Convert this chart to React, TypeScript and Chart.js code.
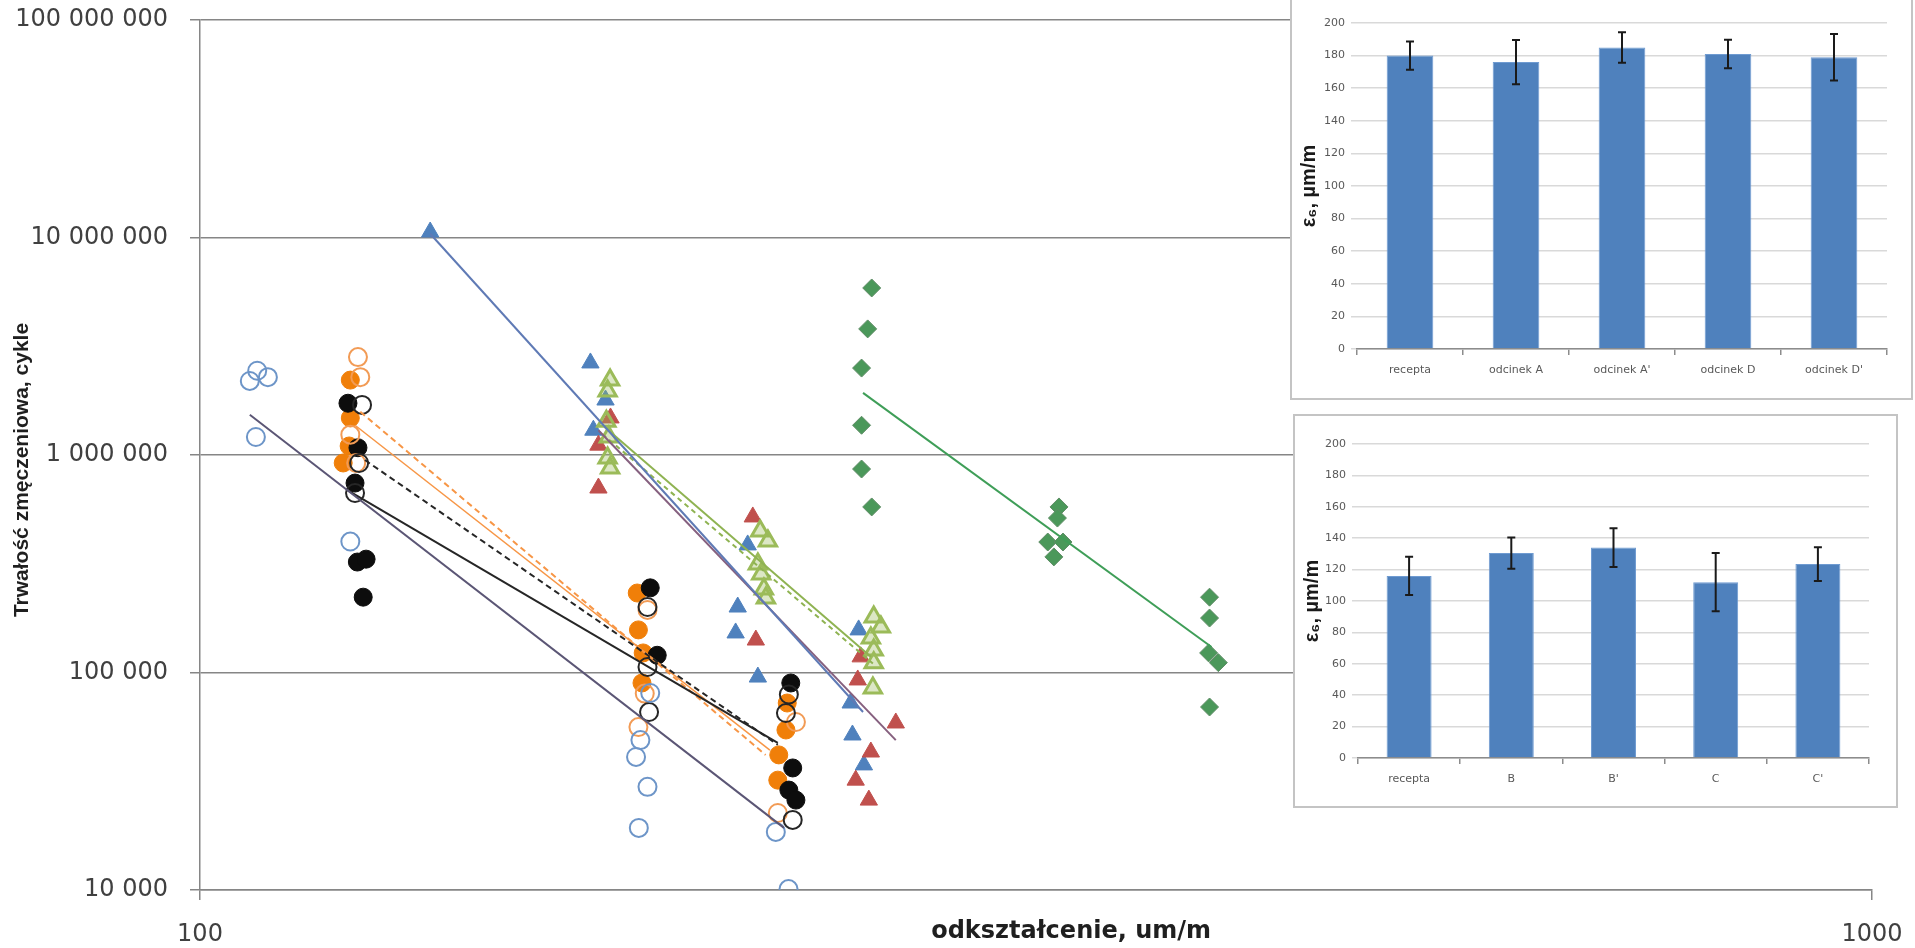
import React, { useEffect, useRef } from 'react';
import { Chart, registerables } from 'chart.js';

Chart.register(...registerables);

type Pt = [number, number];

// ---- main fatigue chart: strain (µm/m) vs. fatigue life (cycles), log-log ----
const X_TICKS = [100, 1000];
const Y_TICKS = [10000, 100000, 1000000, 10000000, 100000000];
const Y_TICK_LABELS = ['10 000', '100 000', '1 000 000', '10 000 000', '100 000 000'];

const BLUE_CIRCLES: Pt[] = [
  [108.2, 2440000], [109.8, 2280000], [107.1, 2190000], [108.0, 1210000],
  [123.0, 400000],
  [185.9, 80500], [183.4, 48900], [182.3, 40900], [185.2, 29800], [183.0, 19300],
  [221.0, 18500], [224.9, 10100],
];

const ORANGE_FILLED: Pt[] = [
  [123.0, 2210000], [123.0, 1480000], [122.8, 1100000], [121.8, 919000],
  [182.6, 232000], [182.9, 157000], [184.1, 123000], [183.8, 89500],
  [224.5, 72400], [224.1, 54400], [221.9, 41800], [221.6, 32000],
];

const ORANGE_OPEN: Pt[] = [
  [124.3, 2820000], [124.7, 2280000], [123.0, 1240000], [124.0, 919000],
  [185.2, 194000], [184.5, 80000], [182.9, 56100],
  [227.2, 59200], [221.6, 22600],
];

const BLACK_FILLED: Pt[] = [
  [122.6, 1730000], [124.3, 1080000], [123.8, 743000], [124.2, 322000], [125.7, 332000], [125.2, 222000],
  [185.9, 245000], [187.7, 120000],
  [225.6, 89500], [226.2, 36400], [225.0, 28800], [227.2, 25900],
];

const BLACK_OPEN: Pt[] = [
  [125.0, 1700000], [124.5, 919000], [123.8, 669000],
  [185.2, 200000], [185.2, 106000], [185.6, 65800],
  [225.0, 79200], [224.1, 65100], [226.2, 21000],
];

const BLUE_TRIANGLES: Pt[] = [
  [137.3, 10600000],
  [171.2, 2650000], [174.8, 1790000], [171.9, 1300000],
  [212.6, 386000], [209.7, 200000], [209.1, 152000], [215.6, 95300],
  [247.7, 157000], [245.0, 72400], [245.6, 51600], [249.5, 37600],
];

const RED_TRIANGLES: Pt[] = [
  [176.0, 1480000], [173.1, 1110000], [173.1, 705000],
  [214.1, 519000], [215.0, 141000],
  [248.4, 118000], [247.4, 92400], [260.7, 58600], [251.9, 43100], [246.7, 32000], [251.2, 25900],
];

const GREEN_TRIANGLES: Pt[] = [
  [175.9, 2210000], [175.3, 1970000], [175.0, 1430000], [175.6, 1210000], [175.3, 969000], [175.9, 871000],
  [216.3, 447000], [218.6, 402000], [215.6, 315000], [216.6, 284000], [217.4, 242000], [218.0, 220000],
  [252.9, 180000], [255.4, 162000], [251.9, 144000], [252.9, 127000], [252.9, 111000], [252.6, 84900],
];

const GREEN_DIAMONDS: Pt[] = [
  [252.2, 5860000], [250.8, 3800000], [248.7, 2510000], [248.7, 1370000], [248.7, 862000], [252.2, 577000],
  [326.4, 577000], [325.7, 513000], [321.4, 398000], [328.2, 398000], [324.1, 340000],
  [401.6, 222000], [401.6, 178000], [401.1, 123000], [406.5, 111000], [401.6, 69400],
];

// power trend lines (straight on log-log axes), start and end point of each
const TREND_SLATE: Pt[] = [[107.1, 1530000], [223.5, 19300]];
const TREND_BLACK: Pt[] = [[122.5, 690000], [221.6, 47500]];
const TREND_BLACK_DASHED: Pt[] = [[125.5, 948000], [221.6, 46500]];
const TREND_ORANGE: Pt[] = [[123.8, 1370000], [219.2, 44000]];
const TREND_ORANGE_DASHED: Pt[] = [[124.7, 1580000], [217.9, 41800]];
const TREND_BLUE: Pt[] = [[137.3, 10400000], [249.2, 65800]];
const TREND_RED: Pt[] = [[173.1, 1300000], [260.7, 48900]];
const TREND_GREEN: Pt[] = [[174.5, 1350000], [251.9, 118000]];
const TREND_GREEN_DASHED: Pt[] = [[174.0, 1250000], [252.6, 110000]];
const TREND_DIAMOND: Pt[] = [[249.2, 1930000], [402.7, 131000]];

// ---- inset bar charts: ε6 with standard deviation ----
const TOP_CATEGORIES = ['recepta', 'odcinek A', "odcinek A'", 'odcinek D', "odcinek D'"];
const TOP_VALUES = [180, 176, 185, 181, 179];
const TOP_ERRORS = [8.7, 13.5, 9.4, 8.7, 14.3];

const BOTTOM_CATEGORIES = ['recepta', 'B', "B'", 'C', "C'"];
const BOTTOM_VALUES = [116, 130.5, 134, 112, 123.5];
const BOTTOM_ERRORS = [12.2, 9.9, 12.4, 18.6, 10.8];

const toXY = (pts: Pt[]) => pts.map(([x, y]) => ({ x, y }));

const trend = (pts: Pt[], color: string, width: number, dash: number[] = []) => ({
  data: toXY(pts),
  showLine: true,
  borderColor: color,
  borderWidth: width,
  borderDash: dash,
  pointRadius: 0,
  fill: false,
});

const markers = (pts: Pt[], style: string, radius: number, bg: string, border: string, bw: number) => ({
  data: toXY(pts),
  showLine: false,
  pointStyle: style,
  pointRadius: radius,
  backgroundColor: bg,
  borderColor: border,
  borderWidth: bw,
});

const mainTitles = {
  id: 'mainTitles',
  afterDraw(chart: any) {
    const { ctx, chartArea } = chart;
    ctx.save();
    ctx.fillStyle = '#1f1f1f';
    ctx.textAlign = 'center';
    ctx.textBaseline = 'middle';
    ctx.font = "bold 24px 'DejaVu Sans'";
    ctx.fillText('odkształcenie, um/m', chartArea.left + (chartArea.right - chartArea.left) * 0.521, chartArea.bottom + 42);
    ctx.translate(22, (chartArea.top + chartArea.bottom) / 2 + 15);
    ctx.rotate(-Math.PI / 2);
    ctx.font = "bold 21px 'Liberation Sans'";
    ctx.fillText('Trwałość zmęczeniowa, cykle', 0, 0);
    ctx.restore();
  },
};

const errorBars = {
  id: 'errorBars',
  afterDatasetsDraw(chart: any, _args: any, opts: any) {
    const errs: number[] = opts.errors || [];
    const vals = chart.data.datasets[0].data as number[];
    const meta = chart.getDatasetMeta(0);
    const yScale = chart.scales.y;
    const { ctx } = chart;
    ctx.save();
    ctx.strokeStyle = '#1a1a1a';
    ctx.lineWidth = 2;
    meta.data.forEach((bar: any, i: number) => {
      const x = bar.x;
      const top = yScale.getPixelForValue(vals[i] + errs[i]);
      const bot = yScale.getPixelForValue(vals[i] - errs[i]);
      ctx.beginPath();
      ctx.moveTo(x, top);
      ctx.lineTo(x, bot);
      ctx.moveTo(x - 4, top);
      ctx.lineTo(x + 4, top);
      ctx.moveTo(x - 4, bot);
      ctx.lineTo(x + 4, bot);
      ctx.stroke();
    });
    ctx.restore();
  },
};

function insetConfig(
  labels: string[],
  values: number[],
  errors: number[],
  yWidth: number,
  xHeight: number,
  padding: { top: number; right: number; left: number; bottom: number },
): any {
  const tickFont = { family: "'DejaVu Sans'", size: 11 };
  return {
    type: 'bar',
    data: {
      labels,
      datasets: [
        {
          data: values,
          backgroundColor: '#4f81bd',
          borderColor: '#6f9bd1',
          borderWidth: 1,
          barPercentage: 0.44,
          categoryPercentage: 1,
        },
      ],
    },
    options: {
      responsive: false,
      animation: false,
      devicePixelRatio: 1,
      layout: { padding, autoPadding: false },
      plugins: { legend: { display: false }, tooltip: { enabled: false }, errorBars: { errors } },
      scales: {
        x: {
          afterFit: (s: any) => { s.height = xHeight; },
          grid: { offset: true, drawOnChartArea: false, drawTicks: true, tickLength: 6, color: '#8c8c8c', lineWidth: 1.5 },
          border: { display: true, color: '#8c8c8c', width: 1.5 },
          ticks: { font: tickFont, color: '#595959', padding: 9, maxRotation: 0, autoSkip: false },
        },
        y: {
          min: 0,
          max: 200,
          afterFit: (s: any) => { s.width = yWidth; s.paddingTop = 0; s.paddingBottom = 0; },
          ticks: { stepSize: 20, font: tickFont, color: '#595959', padding: 6 },
          grid: { color: '#d9d9d9', lineWidth: 1.5, drawTicks: true, tickLength: 6 },
          border: { display: false },
          title: {
            display: true,
            text: 'ε₆, µm/m',
            font: { family: "'Liberation Sans', 'DejaVu Sans'", size: 20, weight: 'bold' },
            color: '#1a1a1a',
            padding: { top: 5, bottom: 0 },
          },
        },
      },
    },
    plugins: [errorBars],
  };
}

export default function App() {
  const mainRef = useRef<HTMLCanvasElement>(null);
  const topRef = useRef<HTMLCanvasElement>(null);
  const bottomRef = useRef<HTMLCanvasElement>(null);

  useEffect(() => {
    const tickFont = { family: "'DejaVu Sans'", size: 24 };
    const main = new Chart(mainRef.current!, {
      type: 'scatter',
      data: {
        datasets: [
          trend(TREND_SLATE, '#5b5675', 2),
          trend(TREND_BLACK, '#262626', 2),
          trend(TREND_BLACK_DASHED, '#262626', 2, [6, 4]),
          trend(TREND_ORANGE, '#f79646', 1.5),
          trend(TREND_ORANGE_DASHED, '#f79646', 2, [6, 4]),
          trend(TREND_BLUE, '#5f7ab5', 2),
          trend(TREND_RED, '#86607f', 2),
          trend(TREND_GREEN, '#8fb352', 2),
          trend(TREND_GREEN_DASHED, '#8fb352', 2, [5, 4]),
          trend(TREND_DIAMOND, '#3f9e58', 2),
          markers(BLUE_CIRCLES, 'circle', 9, 'rgba(0,0,0,0)', '#6d95c8', 2),
          markers(BLACK_OPEN, 'circle', 9, 'rgba(0,0,0,0)', '#262626', 2),
          markers(ORANGE_OPEN, 'circle', 9, 'rgba(0,0,0,0)', '#f29b55', 2),
          markers(BLACK_FILLED, 'circle', 9, '#0d0d0d', '#0d0d0d', 1),
          markers(ORANGE_FILLED, 'circle', 9, '#f07f09', '#f07f09', 1),
          markers(GREEN_TRIANGLES, 'triangle', 10, 'rgba(155,187,89,0.35)', '#9bbb59', 3),
          markers(RED_TRIANGLES, 'triangle', 10, '#c0504d', '#c0504d', 1),
          markers(BLUE_TRIANGLES, 'triangle', 10, '#4f81bd', '#4f81bd', 1),
          markers(GREEN_DIAMONDS, 'rectRot', 9, '#4b985a', '#5f8c66', 1),
        ] as any,
      },
      options: {
        responsive: false,
        animation: false,
        devicePixelRatio: 1,
        layout: { padding: { left: 0, right: 43, top: 20, bottom: 0 }, autoPadding: false },
        plugins: { legend: { display: false }, tooltip: { enabled: false } },
        scales: {
          x: {
            type: 'logarithmic',
            min: 100,
            max: 1000,
            afterFit: (s: any) => { s.height = 58; s.paddingLeft = 0; s.paddingRight = 0; },
            afterBuildTicks: (s: any) => { s.ticks = X_TICKS.map((v) => ({ value: v })); },
            ticks: {
              callback: (v: any) => String(v),
              font: tickFont,
              color: '#404040',
              padding: 20,
              maxRotation: 0,
              autoSkip: false,
            },
            grid: { drawOnChartArea: false, drawTicks: true, tickLength: 10, color: '#868686', lineWidth: 1.5 },
            border: { display: true, color: '#868686', width: 1.5 },
          },
          y: {
            type: 'logarithmic',
            min: 10000,
            max: 100000000,
            afterFit: (s: any) => { s.width = 200; s.paddingTop = 0; s.paddingBottom = 0; },
            afterBuildTicks: (s: any) => { s.ticks = Y_TICKS.map((v) => ({ value: v })); },
            ticks: {
              callback: (v: any) => Y_TICK_LABELS[Y_TICKS.indexOf(Number(v))],
              font: tickFont,
              color: '#404040',
              padding: 22,
              autoSkip: false,
            },
            grid: { color: '#868686', lineWidth: 1.5, drawTicks: true, tickLength: 10 },
            border: { display: true, color: '#868686', width: 1.5 },
          },
        },
      } as any,
      plugins: [mainTitles],
    });

    const top = new Chart(
      topRef.current!,
      insetConfig(TOP_CATEGORIES, TOP_VALUES, TOP_ERRORS, 65, 49, { top: 25, right: 24, left: 0, bottom: 0 }),
    );
    const bottom = new Chart(
      bottomRef.current!,
      insetConfig(BOTTOM_CATEGORIES, BOTTOM_VALUES, BOTTOM_ERRORS, 63, 48, { top: 28, right: 27, left: 0, bottom: 0 }),
    );

    return () => {
      main.destroy();
      top.destroy();
      bottom.destroy();
    };
  }, []);

  const box: React.CSSProperties = {
    position: 'absolute',
    boxSizing: 'border-box',
    border: '2px solid #c4c4c4',
    background: '#ffffff',
  };

  return (
    <div style={{ position: 'fixed', left: 0, top: 0, width: 1915, height: 948, background: '#ffffff', overflow: 'hidden' }}>
      <canvas ref={mainRef} width={1915} height={948} style={{ position: 'absolute', left: 0, top: 0, width: 1915, height: 948 }} />
      <div style={{ ...box, left: 1290, top: -4, width: 623, height: 404 }}>
        <canvas ref={topRef} width={619} height={400} style={{ display: 'block', width: 619, height: 400 }} />
      </div>
      <div style={{ ...box, left: 1293, top: 414, width: 605, height: 394 }}>
        <canvas ref={bottomRef} width={601} height={390} style={{ display: 'block', width: 601, height: 390 }} />
      </div>
    </div>
  );
}
